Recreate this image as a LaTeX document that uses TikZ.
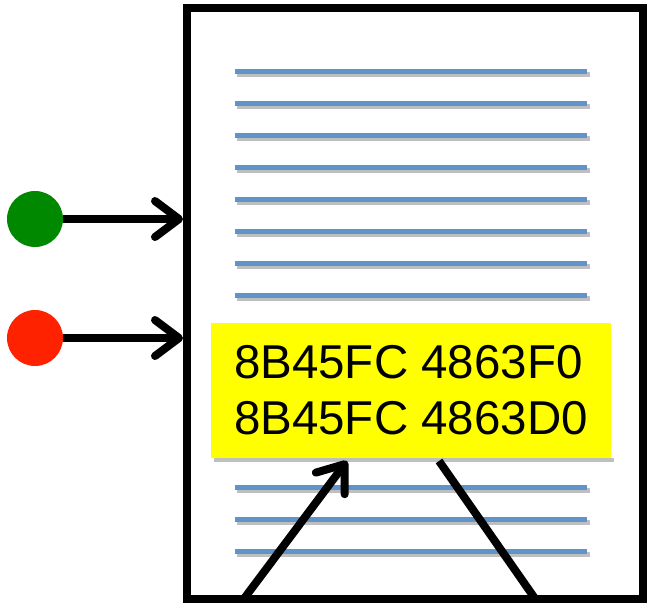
\documentclass[tikz,border=0pt]{standalone}
\usepackage{fontspec}
\setmainfont{Liberation Sans}
\usetikzlibrary{arrows.meta}
\definecolor{lineblue}{RGB}{96,148,201}
\definecolor{dotgreen}{RGB}{0,136,0}
\definecolor{dotred}{RGB}{255,34,0}
\definecolor{hlyellow}{RGB}{255,255,0}
\tikzset{
  thickarrow/.style={line width=8pt, -{Straight Barb[length=24pt,width=36pt,line cap=round,line join=round]}},
  thickline/.style={line width=8pt},
  textline/.style={lineblue, line width=5pt},
  lineshadow/.style={black!25, line width=5pt},
  dot/.style={circle, inner sep=0pt, minimum size=56pt},
}
\begin{document}
\begin{tikzpicture}[x=1pt,y=-1pt]
\useasboundingbox (0,0) rectangle (648,603);
% page box
\node[draw, line width=8pt, fill=white, minimum width=456pt, minimum height=591pt, inner sep=0pt] (page) at (415,303.5) {};
% text lines with soft shadow
\foreach \y in {71,103,135,167,199,231,263,295,327,359,391,423,455,487,519,551}{
  \draw[lineshadow] (237,\y+3) -- (590,\y+3);
  \draw[textline] (235,\y) -- (587,\y);
}
% highlighted code
\fill[black!25] (214,458) rectangle (614,462);
\node[fill=hlyellow, minimum width=400pt, minimum height=135pt, inner sep=0pt,
      align=left, font=\fontsize{47.5pt}{56pt}\selectfont] (code) at (411,390.5)
  {8B45FC 4863F0\\8B45FC 4863D0};
% inputs
\node[dot, fill=dotgreen] (g) at (35,219) {};
\node[dot, fill=dotred] (r) at (35,338) {};
\draw[thickarrow] (g.east) -- (g.east -| page.west);
\draw[thickarrow] (r.east) -- (r.east -| page.west);
% bottom lines
\coordinate (la) at (243,600);
\coordinate (lb) at (347,461);
\coordinate (ra) at (439,461);
\coordinate (rb) at (536,600);
\draw[thickarrow] (la) -- (lb);
\draw[thickline] (ra) -- (rb);
\end{tikzpicture}
\end{document}
